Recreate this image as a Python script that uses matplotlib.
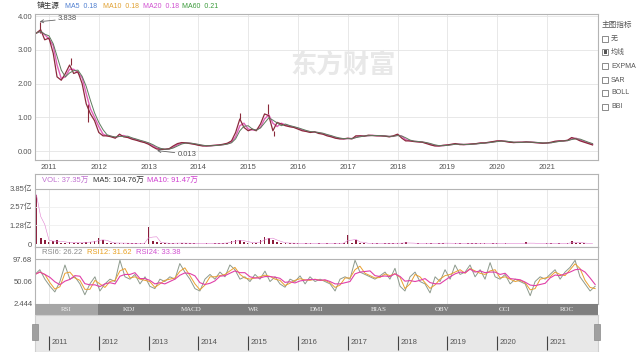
import numpy as np
import pandas as pd
import matplotlib
matplotlib.use("Agg")
import matplotlib.pyplot as plt
from matplotlib.patches import Rectangle

plt.rcParams['font.family'] = ['Liberation Sans', 'Noto Sans CJK SC', 'DejaVu Sans']

W, H = 641, 352

# monthly close, 2010-10 .. 2021-12
close = [
    3.50, 3.60, 3.30,  # 2010
    3.35, 2.90, 2.20, 2.10, 2.30, 2.55, 2.30, 2.35, 2.00, 1.40, 1.10, 0.90,  # 2011
    0.55, 0.45, 0.45, 0.42, 0.38, 0.50, 0.42, 0.40, 0.35, 0.32, 0.28, 0.25,  # 2012
    0.20, 0.12, 0.06, 0.05, 0.05, 0.07, 0.15, 0.22, 0.25, 0.24, 0.22, 0.20,  # 2013
    0.17, 0.15, 0.15, 0.16, 0.17, 0.18, 0.20, 0.23, 0.30, 0.55, 0.95, 0.70,  # 2014
    0.60, 0.65, 0.60, 0.80, 1.10, 1.05, 0.60, 0.85, 0.80, 0.75, 0.72, 0.70,  # 2015
    0.65, 0.60, 0.58, 0.55, 0.57, 0.52, 0.50, 0.45, 0.42, 0.38, 0.36, 0.36,  # 2016
    0.38, 0.36, 0.45, 0.45, 0.44, 0.47, 0.46, 0.45, 0.45, 0.44, 0.42, 0.45,  # 2017
    0.50, 0.38, 0.30, 0.30, 0.28, 0.27, 0.26, 0.22, 0.18, 0.15, 0.15, 0.17,  # 2018
    0.18, 0.20, 0.22, 0.19, 0.19, 0.20, 0.21, 0.22, 0.24, 0.24, 0.26, 0.28,  # 2019
    0.30, 0.30, 0.28, 0.26, 0.25, 0.26, 0.26, 0.27, 0.26, 0.25, 0.24, 0.23,  # 2020
    0.24, 0.26, 0.29, 0.30, 0.30, 0.32, 0.40, 0.36, 0.30, 0.26, 0.22, 0.18,  # 2021
]

# volume (亿), same months
vol = [
    3.40, 0.40, 0.25,
    0.15, 0.18, 0.25, 0.10, 0.08, 0.12, 0.08, 0.06, 0.10, 0.15, 0.12, 0.20,
    0.40, 0.25, 0.10, 0.06, 0.05, 0.08, 0.05, 0.04, 0.05, 0.04, 0.05, 0.06,
    1.17, 0.20, 0.12, 0.06, 0.05, 0.04, 0.06, 0.08, 0.05, 0.04, 0.05, 0.04,
    0.04, 0.03, 0.04, 0.03, 0.04, 0.05, 0.06, 0.10, 0.20, 0.28, 0.25, 0.15,
    0.08, 0.06, 0.10, 0.25, 0.50, 0.40, 0.30, 0.12, 0.08, 0.06, 0.05, 0.05,
    0.04, 0.03, 0.04, 0.05, 0.03, 0.04, 0.03, 0.04, 0.03, 0.05, 0.04, 0.08,
    0.62, 0.10, 0.25, 0.06, 0.04, 0.03, 0.05, 0.04, 0.03, 0.04, 0.05, 0.06,
    0.05, 0.06, 0.12, 0.03, 0.03, 0.04, 0.03, 0.05, 0.04, 0.03, 0.05, 0.08,
    0.04, 0.03, 0.05, 0.04, 0.03, 0.04, 0.05, 0.04, 0.05, 0.04, 0.03, 0.04,
    0.05, 0.03, 0.04, 0.03, 0.02, 0.03, 0.03, 0.12, 0.03, 0.02, 0.03, 0.03,
    0.04, 0.05, 0.03, 0.04, 0.03, 0.04, 0.20, 0.10, 0.06, 0.04, 0.03, 0.03,
]

# intramonth extremes (wicks)
wick_date = ['2010-10-25', '2011-06-10', '2011-10-15', '2014-11-05', '2015-05-25', '2015-07-10']
wick_base = [3.50, 2.55, 1.40, 0.95, 1.10, 0.60]
wick_val = [3.838, 2.75, 0.85, 1.12, 1.38, 0.45]

# RSI6 readings, Sep 2010 .. Dec 2021
rsi6 = [65, 75, 55, 40, 28, 50, 85, 55, 60, 45, 22, 45, 60, 30, 45, 55, 50, 95, 60, 55,
        65, 45, 60, 40, 35, 55, 50, 60, 55, 88, 70, 55, 35, 30, 55, 65, 55, 70, 60, 85,
        75, 55, 60, 50, 65, 55, 72, 50, 60, 45, 38, 55, 50, 62, 45, 60, 50, 55, 50, 45,
        30, 55, 60, 55, 95, 70, 65, 60, 55, 62, 70, 55, 78, 40, 30, 60, 70, 50, 45, 26,
        60, 50, 75, 55, 85, 65, 70, 85, 60, 75, 55, 90, 60, 55, 65, 45, 55, 50, 45, 20,
        50, 60, 55, 65, 75, 55, 70, 80, 95, 60, 45, 30, 40]

years = list(range(2011, 2022))
ytick_vals = [0, 1, 2, 3, 4]
vol_ticks = [0, 1.28, 2.57, 3.85]
vol_labels = ['0', '1.28亿', '2.57亿', '3.85亿']
rsi_ticks = [2.444, 50.06, 97.68]
tabs = ['RSI', 'KDJ', 'MACD', 'WR', 'DMI', 'BIAS', 'OBV', 'CCI', 'ROC']
side_items = ['无', '均线', 'EXPMA', 'SAR', 'BOLL', 'BBI']


def dec_year(d):
    d = pd.DatetimeIndex(d)
    return np.asarray(d.year + (d.dayofyear - 1) / 365.25)


t = dec_year(pd.date_range('2010-10-01', periods=len(close), freq='MS'))
t_rsi = dec_year(pd.date_range('2010-09-20', '2021-12-20', periods=len(rsi6)))
t_wick = dec_year(wick_date)

s_close = pd.Series(close)
ma_short = s_close.rolling(2, min_periods=1).mean()
ma_long = s_close.rolling(3, min_periods=1).mean()
s_rsi = pd.Series(rsi6, dtype=float)
rsi12 = s_rsi.rolling(2, min_periods=1).mean()
rsi24 = s_rsi.rolling(4, min_periods=1).mean()
vol_ma = pd.Series(vol).rolling(3, min_periods=1).mean()

fig = plt.figure(figsize=(W / 100, H / 100), dpi=100)
fig.patch.set_facecolor('white')


def px_axes(x0, y0, x1, y1):
    return fig.add_axes([x0 / W, 1 - y1 / H, (x1 - x0) / W, (y1 - y0) / H])


def fx(x):
    return x / W


def fy(y):
    return 1 - y / H


XL = (2010.719, 2022.024)
FRAME = '#b4b4b4'
GRID = '#e4e4e4'
TXT = '#555555'


def style(ax):
    for s in ax.spines.values():
        s.set_color(FRAME)
        s.set_linewidth(0.8)
    ax.tick_params(length=0, labelsize=5.5, labelcolor=TXT, pad=2)


# ---- main price panel
ax = px_axes(35, 14, 598, 160)
style(ax)
ax.set_xlim(XL)
ax.set_ylim(-0.267, 4.065)
ax.set_yticks(ytick_vals)
ax.set_yticklabels(['%.2f' % v for v in ytick_vals])
ax.set_xticks(years)
ax.set_xticklabels([str(y) for y in years])
ax.tick_params(axis='x', pad=3)
ax.grid(True, color=GRID, lw=0.6)
ax.set_axisbelow(True)
ax.vlines(t_wick, wick_base, wick_val, color='#8a2a3a', lw=0.8)
ax.plot(t, ma_short, color='#e060b8', lw=1.0)
ax.plot(t, close, color='#8b2a3c', lw=0.9)
ax.plot(t, ma_long, color='#5d7a5d', lw=0.7)
ax.annotate('3.838', xy=(t_wick[0], 3.838), xytext=(2011.18, 3.92),
            fontsize=5.5, color=TXT, va='center',
            arrowprops=dict(arrowstyle='->', color='#666', lw=0.6, shrinkA=0, shrinkB=0))
ax.annotate('0.013', xy=(2013.17, 0.013), xytext=(2013.58, -0.09),
            fontsize=5.5, color=TXT, va='center',
            arrowprops=dict(arrowstyle='->', color='#666', lw=0.6, shrinkA=0, shrinkB=0))

fig.text(fx(290), fy(65), '东方财富', fontsize=19, color='#e8e8e8', weight='bold',
         va='center', family=['Noto Sans CJK SC'])

# title row
fig.text(fx(37), fy(6), '镇生源', fontsize=5.5, color='#333', va='center')
for x0, txt, c in [(65, 'MA5  0.18', '#4f7fd0'), (103, 'MA10  0.18', '#e0a030'),
                   (143, 'MA20  0.18', '#d050d0'), (182, 'MA60  0.21', '#3a9a3a')]:
    fig.text(fx(x0), fy(6), txt, fontsize=5, color=c, va='center')

# ---- volume panel
av = px_axes(35, 174, 598, 247)
style(av)
av.set_xlim(XL)
av.set_ylim(-0.206, 4.81)
av.set_xticks([])
av.set_yticks(vol_ticks)
av.set_yticklabels(vol_labels)
av.vlines(years, -0.206, 3.78, color=GRID, lw=0.6)
av.hlines([1.28, 2.57], XL[0], XL[1], color='#efefef', lw=0.6)
av.axhline(3.78, color=FRAME, lw=0.8)
av.bar(t, vol, width=0.035, color='#8b1c3c')
av.plot(t, vol_ma, color='#e080d0', lw=0.4)
for x0, txt, c in [(42, 'VOL: 37.35万', '#c070d0'), (93, 'MA5: 104.76万', '#333333'),
                   (147, 'MA10: 91.47万', '#d040d0')]:
    fig.text(fx(x0), fy(181), txt, fontsize=5.5, color=c, va='center')

# ---- RSI panel
ar = px_axes(35, 247, 598, 304)
style(ar)
ar.set_xlim(XL)
ar.set_ylim(2.444, 123.08)
ar.set_xticks([])
ar.set_yticks(rsi_ticks)
ar.set_yticklabels(['2.444', '50.06', '97.68'])
ar.vlines(years, 2.444, 97.68, color=GRID, lw=0.6)
ar.axhline(97.68, color=FRAME, lw=0.8)
ar.plot(t_rsi, rsi6, color='#8d9a8d', lw=0.7)
ar.plot(t_rsi, rsi12, color='#eaa030', lw=0.7)
ar.plot(t_rsi, rsi24, color='#e040a8', lw=0.8)
for x0, txt, c in [(42, 'RSI6: 26.22', '#888888'), (87, 'RSI12: 31.62', '#e8a020'),
                   (136, 'RSI24: 33.38', '#d050d0')]:
    fig.text(fx(x0), fy(253), txt, fontsize=5.5, color=c, va='center')

# ---- tab bar
at = px_axes(35, 304, 598, 315)
at.set_xlim(0, len(tabs))
at.set_ylim(0, 1)
at.axis('off')
at.bar(np.arange(len(tabs)), 1, width=1, align='edge',
       color=['#a6a6a6'] + ['#7f7f7f'] * (len(tabs) - 1), edgecolor='none')
for i, name in enumerate(tabs):
    at.text(i + 0.5, 0.5, name, ha='center', va='center', fontsize=5,
            color='#f2f2f2', family=['Liberation Serif'])

# ---- navigator
an = px_axes(35, 315, 598, 352)
an.set_facecolor('#e8e8e8')
an.set_xlim(XL)
an.set_ylim(0, 1)
an.set_xticks([])
an.set_yticks([])
for s in an.spines.values():
    s.set_color('#cfcfcf')
    s.set_linewidth(0.8)
an.vlines(years, 0.05, 0.43, color='#444', lw=0.8)
for y in years:
    an.text(y + 0.05, 0.27, str(y), fontsize=5.5, color=TXT, va='center')
for x0 in (32, 594):
    fig.patches.append(Rectangle((fx(x0), fy(340)), 6 / W, 16 / H, transform=fig.transFigure,
                                 facecolor='#a0a0a0', edgecolor='#8a8a8a', lw=0.5))

# ---- side legend
fig.text(fx(602), fy(25), '主图指标', fontsize=5.5, color=TXT, va='center')
for i, (yc, name) in enumerate(zip([39, 52, 66, 80, 93, 107], side_items)):
    fig.patches.append(Rectangle((fx(602), fy(yc + 3)), 6 / W, 6 / H, transform=fig.transFigure,
                                 facecolor='white', edgecolor='#777', lw=0.6))
    if i == 1:
        fig.patches.append(Rectangle((fx(603.5), fy(yc + 1.5)), 3 / W, 3 / H,
                                     transform=fig.transFigure, facecolor='#555', edgecolor='none'))
    fig.text(fx(611), fy(yc), name, fontsize=5, color=TXT, va='center')

fig.savefig('out.png', dpi=100)
